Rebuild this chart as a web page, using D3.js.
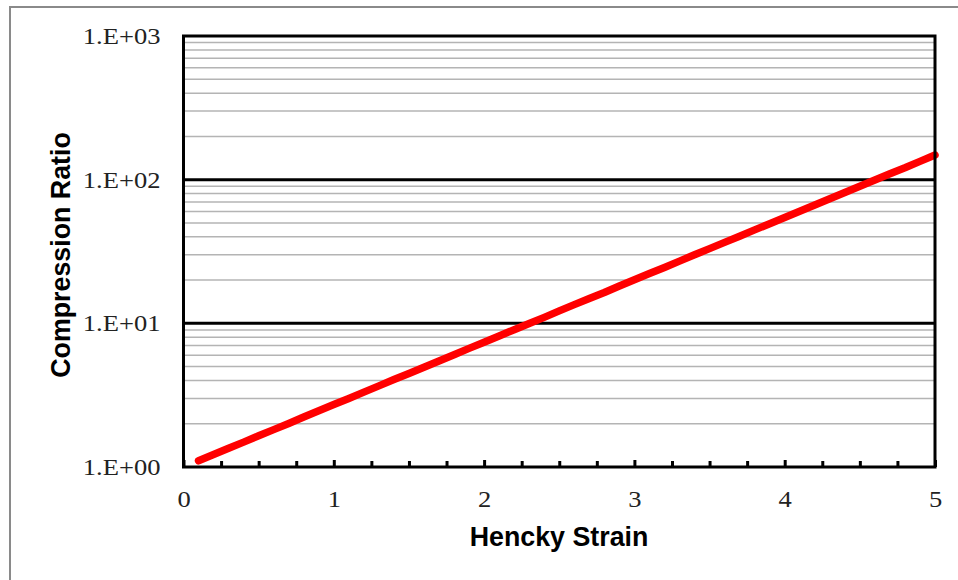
<!DOCTYPE html>
<html>
<head>
<meta charset="utf-8">
<script src="https://cdn.jsdelivr.net/npm/d3@7/dist/d3.min.js"></script>
<style>
  html, body { margin: 0; padding: 0; background: #fff; }
  svg { display: block; }
</style>
</head>
<body>
<svg id="chart" width="958" height="580"></svg>
<script>
// Hencky strain vs. compression ratio
const strain = [0.1, 0.2, 0.3, 0.4, 0.5, 0.6, 0.7, 0.8, 0.9, 1.0,
                1.1, 1.2, 1.3, 1.4, 1.5, 1.6, 1.7, 1.8, 1.9, 2.0,
                2.1, 2.2, 2.3, 2.4, 2.5, 2.6, 2.7, 2.8, 2.9, 3.0,
                3.1, 3.2, 3.3, 3.4, 3.5, 3.6, 3.7, 3.8, 3.9, 4.0,
                4.1, 4.2, 4.3, 4.4, 4.5, 4.6, 4.7, 4.8, 4.9, 5.0];
const compressionRatio = [1.105, 1.22, 1.35, 1.49, 1.65, 1.82, 2.01, 2.23, 2.46, 2.72,
                          3.00, 3.32, 3.67, 4.06, 4.48, 4.95, 5.47, 6.05, 6.69, 7.39,
                          8.17, 9.03, 9.97, 11.0, 12.2, 13.5, 14.9, 16.4, 18.2, 20.1,
                          22.2, 24.5, 27.1, 30.0, 33.1, 36.6, 40.4, 44.7, 49.4, 54.6,
                          60.3, 66.7, 73.7, 81.5, 90.0, 99.5, 110, 121, 134, 148.4];
const xTicks = [0, 1, 2, 3, 4, 5];
const xMinorTicks = [0.25, 0.5, 0.75, 1.25, 1.5, 1.75, 2.25, 2.5, 2.75,
                     3.25, 3.5, 3.75, 4.25, 4.5, 4.75];
const yTicks = [1, 10, 100, 1000];
const yTickLabels = ["1.E+00", "1.E+01", "1.E+02", "1.E+03"];

const svg = d3.select("#chart");
const plot = { left: 183.5, right: 935, top: 36, bottom: 467 };

// outer chart frame
svg.append("rect")
  .attr("x", 10).attr("y", 7)
  .attr("width", 960).attr("height", 590)
  .attr("fill", "#fff").attr("stroke", "#8a8a8a").attr("stroke-width", 2);

const x = d3.scaleLinear().domain([0, 5]).range([plot.left, plot.right]);
const y = d3.scaleLog().domain([1, 1000]).range([plot.bottom, plot.top]);

// minor gridlines (2..9 within each decade)
const minorVals = [];
[1, 10, 100].forEach(d => { for (let k = 2; k <= 9; k++) minorVals.push(d * k); });
svg.append("g")
  .selectAll("line").data(minorVals).join("line")
  .attr("x1", plot.left).attr("x2", plot.right)
  .attr("y1", d => y(d)).attr("y2", d => y(d))
  .attr("stroke", "#b4b4b4").attr("stroke-width", 1.5);

// major gridlines
svg.append("g")
  .selectAll("line").data([10, 100]).join("line")
  .attr("x1", plot.left).attr("x2", plot.right)
  .attr("y1", d => y(d)).attr("y2", d => y(d))
  .attr("stroke", "#000").attr("stroke-width", 3);

// data line
svg.append("path")
  .datum(strain.map((s, i) => [s, compressionRatio[i]]))
  .attr("fill", "none")
  .attr("stroke", "#ff0000")
  .attr("stroke-width", 7.5)
  .attr("stroke-linecap", "round")
  .attr("stroke-linejoin", "round")
  .attr("d", d3.line().x(d => x(d[0])).y(d => y(d[1])));

// plot area border
svg.append("rect")
  .attr("x", plot.left).attr("y", plot.top)
  .attr("width", plot.right - plot.left).attr("height", plot.bottom - plot.top)
  .attr("fill", "none").attr("stroke", "#000").attr("stroke-width", 3);

// x axis ticks (inward)
const xAxis = svg.append("g").attr("transform", `translate(0,${plot.bottom})`);
xAxis.call(d3.axisBottom(x).tickValues(xTicks).tickSizeInner(-7).tickSizeOuter(0).tickPadding(24).tickFormat(d3.format("d")));
xAxis.append("g").call(d3.axisBottom(x).tickValues(xMinorTicks).tickSizeInner(-6).tickSizeOuter(0).tickFormat(""));
xAxis.selectAll(".domain").remove();
xAxis.selectAll(".tick line").attr("stroke", "#000").attr("stroke-width", 3);
xAxis.selectAll(".tick text")
  .attr("font-family", "'Liberation Serif', serif")
  .attr("font-size", 23.5).attr("fill", "#222")
  .attr("dy", "0.66em");

// y axis labels
const yAxis = svg.append("g").attr("transform", `translate(${plot.left},0)`);
yAxis.call(d3.axisLeft(y).tickValues(yTicks).tickSize(0).tickPadding(23)
  .tickFormat((d, i) => yTickLabels[i]));
yAxis.selectAll(".domain").remove();
yAxis.selectAll(".tick text")
  .attr("font-family", "'Liberation Serif', serif")
  .attr("font-size", 23.5).attr("fill", "#222");

// widen serif tick labels slightly
svg.selectAll(".tick text").each(function () {
  const t = d3.select(this);
  if (!t.text()) return;
  const w = this.getComputedTextLength();
  t.attr("textLength", w * 1.13).attr("lengthAdjust", "spacingAndGlyphs");
});

// axis titles
svg.append("text")
  .attr("x", 559).attr("y", 546)
  .attr("text-anchor", "middle")
  .attr("font-family", "'Liberation Sans', Arial, sans-serif")
  .attr("font-weight", "bold").attr("font-size", 26.8).attr("fill", "#000")
  .text("Hencky Strain");

svg.append("text")
  .attr("transform", "translate(69.5,255) rotate(-90)")
  .attr("text-anchor", "middle")
  .attr("font-family", "'Liberation Sans', Arial, sans-serif")
  .attr("font-weight", "bold").attr("font-size", 26.8).attr("fill", "#000")
  .text("Compression Ratio");
</script>
</body>
</html>
